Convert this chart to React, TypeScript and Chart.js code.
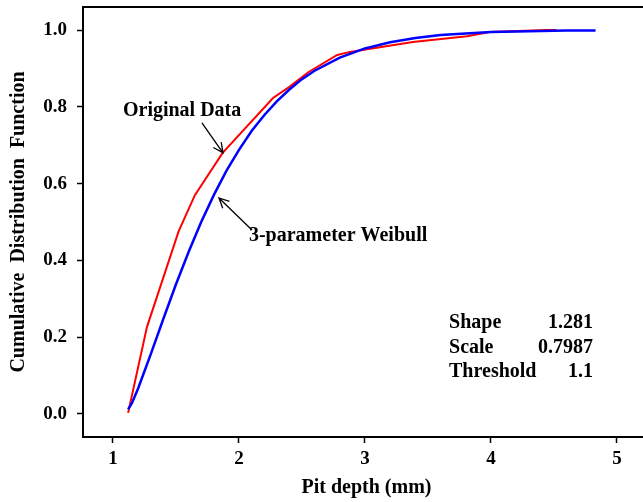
import React, { useEffect, useRef } from "react";
import { Chart, registerables } from "chart.js";
Chart.register(...registerables);

// Original (empirical) CDF
const origX = [1.12, 1.27, 1.52, 1.65, 1.87, 2.27, 2.40, 2.55, 2.78, 2.88, 3.38, 3.81, 3.99, 4.44, 4.52];
const origY = [0.003, 0.227, 0.475, 0.57, 0.68, 0.823, 0.852, 0.89, 0.935, 0.943, 0.969, 0.984, 0.995, 1.0, 1.0];

// 3-parameter Weibull fit
const weibX = [1.12, 1.15, 1.2, 1.3, 1.4, 1.5, 1.6, 1.7, 1.8, 1.9, 2.0, 2.1, 2.2, 2.3, 2.4, 2.5, 2.6, 2.8, 3.0, 3.2, 3.4, 3.6, 3.8, 4.0, 4.3, 4.6, 4.83];
const weibY = [0.012, 0.028, 0.067, 0.156, 0.248, 0.338, 0.422, 0.5, 0.57, 0.633, 0.688, 0.737, 0.778, 0.814, 0.845, 0.872, 0.894, 0.928, 0.952, 0.968, 0.979, 0.987, 0.991, 0.995, 0.997, 0.999, 0.999];

const xTicks = [1, 2, 3, 4, 5];
const yTicks = [0, 0.2, 0.4, 0.6, 0.8, 1.0];

const paramNames = ["Shape", "Scale", "Threshold"];
const paramValues = ["1.281", "0.7987", "1.1"];

const FONT = "'Liberation Serif', 'Times New Roman', serif";

export default function App() {
  const ref = useRef<HTMLCanvasElement | null>(null);

  useEffect(() => {
    const canvas = ref.current;
    if (!canvas) return;

    const overlay = {
      id: "overlay",
      afterDraw(chart: any) {
        const { ctx, chartArea, scales } = chart;
        const xs = scales.x;
        const ys = scales.y;
        const px = (v: number) => xs.getPixelForValue(v);
        const py = (v: number) => ys.getPixelForValue(v);
        ctx.save();
        // frame
        ctx.strokeStyle = "#000";
        ctx.lineWidth = 2;
        ctx.strokeRect(chartArea.left, chartArea.top, chartArea.right - chartArea.left, chartArea.bottom - chartArea.top);

        ctx.fillStyle = "#000";
        ctx.font = `bold 20px ${FONT}`;
        ctx.textBaseline = "middle";
        ctx.textAlign = "left";
        ctx.fillText("Original Data", px(1.079), py(0.789));
        ctx.fillText("3-parameter Weibull", px(2.079), py(0.464));

        const arrow = (x0: number, y0: number, x1: number, y1: number) => {
          const ax = px(x0), ay = py(y0), bx = px(x1), by = py(y1);
          ctx.beginPath();
          ctx.moveTo(ax, ay);
          ctx.lineTo(bx, by);
          const ang = Math.atan2(by - ay, bx - ax);
          const L = 11, a = 0.45;
          ctx.moveTo(bx - L * Math.cos(ang - a), by - L * Math.sin(ang - a));
          ctx.lineTo(bx, by);
          ctx.lineTo(bx - L * Math.cos(ang + a), by - L * Math.sin(ang + a));
          ctx.strokeStyle = "#000";
          ctx.lineWidth = 1.3;
          ctx.stroke();
        };
        arrow(1.706, 0.758, 1.873, 0.68);
        arrow(2.103, 0.479, 1.841, 0.5625);

        const rowsY = [0.237, 0.172, 0.109];
        paramNames.forEach((n, i) => {
          ctx.textAlign = "left";
          ctx.fillText(n, px(3.667), py(rowsY[i]));
          ctx.textAlign = "right";
          ctx.fillText(paramValues[i], px(4.81), py(rowsY[i]));
        });
        ctx.restore();
      },
    };

    const chart = new Chart(canvas, {
      type: "line",
      data: {
        datasets: [
          {
            label: "3-parameter Weibull",
            data: weibX.map((x, i) => ({ x, y: weibY[i] })),
            borderColor: "#0000ff",
            borderWidth: 2.5,
            pointRadius: 0,
            tension: 0,
            fill: false,
            order: 0,
          },
          {
            label: "Original Data",
            data: origX.map((x, i) => ({ x, y: origY[i] })),
            borderColor: "#ff0000",
            borderWidth: 2,
            pointRadius: 0,
            tension: 0,
            fill: false,
            order: 1,
          },
        ],
      },
      options: {
        animation: false,
        responsive: false,
        devicePixelRatio: 1,
        layout: { padding: { left: 0, top: 7, right: 10, bottom: 0 } },
        plugins: { legend: { display: false }, tooltip: { enabled: false } },
        scales: {
          x: {
            type: "linear",
            min: 0.762,
            max: 5.262,
            afterFit: (s: any) => { s.height = 65; s.paddingLeft = 0; s.paddingRight = 0; },
            afterBuildTicks: (s: any) => { s.ticks = xTicks.map((v) => ({ value: v })); },
            border: { display: false },
            grid: { drawOnChartArea: false, drawTicks: true, tickLength: 6, tickWidth: 1.5, tickColor: "#000" },
            ticks: {
              color: "#000",
              padding: 5,
              font: { family: FONT, size: 19, weight: "bold" },
              callback: (v: any) => String(v),
            },
            title: {
              display: true,
              text: "Pit depth (mm)",
              color: "#000",
              font: { family: FONT, size: 20, weight: "bold" },
              padding: { top: 0, bottom: 2 },
            },
          },
          y: {
            type: "linear",
            min: -0.0599,
            max: 1.0599,
            afterFit: (s: any) => { s.width = 83; s.paddingTop = 0; s.paddingBottom = 0; },
            afterBuildTicks: (s: any) => { s.ticks = yTicks.map((v) => ({ value: v })); },
            border: { display: false },
            grid: { drawOnChartArea: false, drawTicks: true, tickLength: 6, tickWidth: 1.5, tickColor: "#000" },
            ticks: {
              color: "#000",
              padding: 10,
              font: { family: FONT, size: 19, weight: "bold" },
              callback: (v: any) => Number(v).toFixed(1),
            },
            title: {
              display: true,
              text: "Cumulative  Distribution  Function",
              color: "#000",
              font: { family: FONT, size: 20, weight: "bold" },
              padding: { top: 7, bottom: 0 },
            },
          },
        },
      },
      plugins: [overlay],
    });

    return () => chart.destroy();
  }, []);

  return (
    <div style={{ position: "absolute", left: 0, top: 0, width: 643, height: 502, overflow: "hidden", background: "#fff" }}>
      <canvas ref={ref} width={660} height={502} style={{ width: 660, height: 502, display: "block" }} />
    </div>
  );
}
